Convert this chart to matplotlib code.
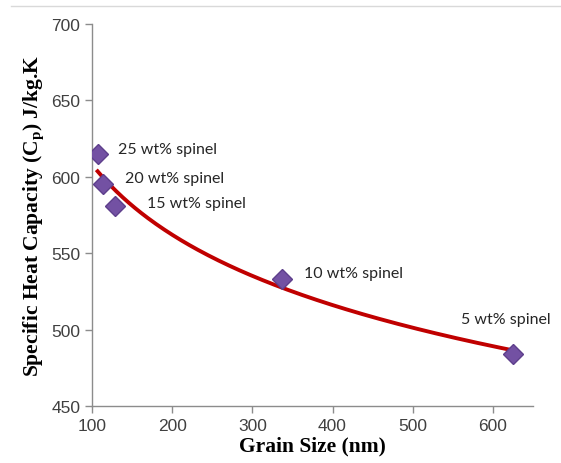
import matplotlib
matplotlib.use("Agg")
import matplotlib.pyplot as plt
from matplotlib.lines import Line2D
import numpy as np

# Data
grain_size = [107, 114, 129, 337, 625]          # nm
cp = [615, 595, 581, 533, 484]                  # J/kg.K
labels = ["25 wt% spinel", "20 wt% spinel", "15 wt% spinel",
          "10 wt% spinel", "5 wt% spinel"]
label_pos = [(132, 618), (141, 599), (169, 583), (364, 537), (560, 507)]

plt.rcParams["mathtext.fontset"] = "custom"
plt.rcParams["mathtext.rm"] = "Liberation Serif:bold"
plt.rcParams["mathtext.it"] = "Liberation Serif:bold"
plt.rcParams["mathtext.bf"] = "Liberation Serif:bold"

fig = plt.figure(figsize=(5.61, 4.64), dpi=100)
ax = fig.add_axes([0.164, 0.123, 0.786, 0.823])

# logarithmic trend line fitted to the points
x = np.asarray(grain_size, float)
y = np.asarray(cp, float)
b, a = np.polyfit(np.log(x), y, 1)
xf = np.linspace(x.min(), x.max(), 200)
ax.plot(xf, a + b * np.log(xf), color="#C00000", lw=2.8, zorder=2)

ax.plot(grain_size, cp, "D", color="#7351A3", mec="#5E3F8C", ms=10, zorder=3)

for t, (tx, ty) in zip(labels, label_pos):
    ax.text(tx, ty, t, fontsize=11.5, family="Lato", color="#262626",
            ha="left", va="center")

ax.set_xlim(100, 650)
ax.set_ylim(450, 700)
ax.set_xticks([100, 200, 300, 400, 500, 600])
ax.set_yticks([450, 500, 550, 600, 650, 700])

for s in ("top", "right"):
    ax.spines[s].set_visible(False)
for s in ("left", "bottom"):
    ax.spines[s].set_color("#8c8c8c")
    ax.spines[s].set_linewidth(1.0)
ax.tick_params(direction="out", length=5, color="#8c8c8c", width=1,
               labelcolor="#404040")
for lab in ax.get_xticklabels() + ax.get_yticklabels():
    lab.set_family("Liberation Sans")
    lab.set_fontsize(12.5)

ax.set_xlabel("Grain Size (nm)", family="Liberation Serif", weight="bold",
              fontsize=15.5, labelpad=2)
ax.set_ylabel(r"Specific Heat Capacity (C$_\mathrm{p}$) J/kg.K",
              family="Liberation Serif", weight="bold", fontsize=15.5,
              labelpad=4)

fig.add_artist(Line2D([0.02, 1.0], [0.985, 0.985], color="#d9d9d9", lw=1))

fig.savefig("out.png", dpi=100)
